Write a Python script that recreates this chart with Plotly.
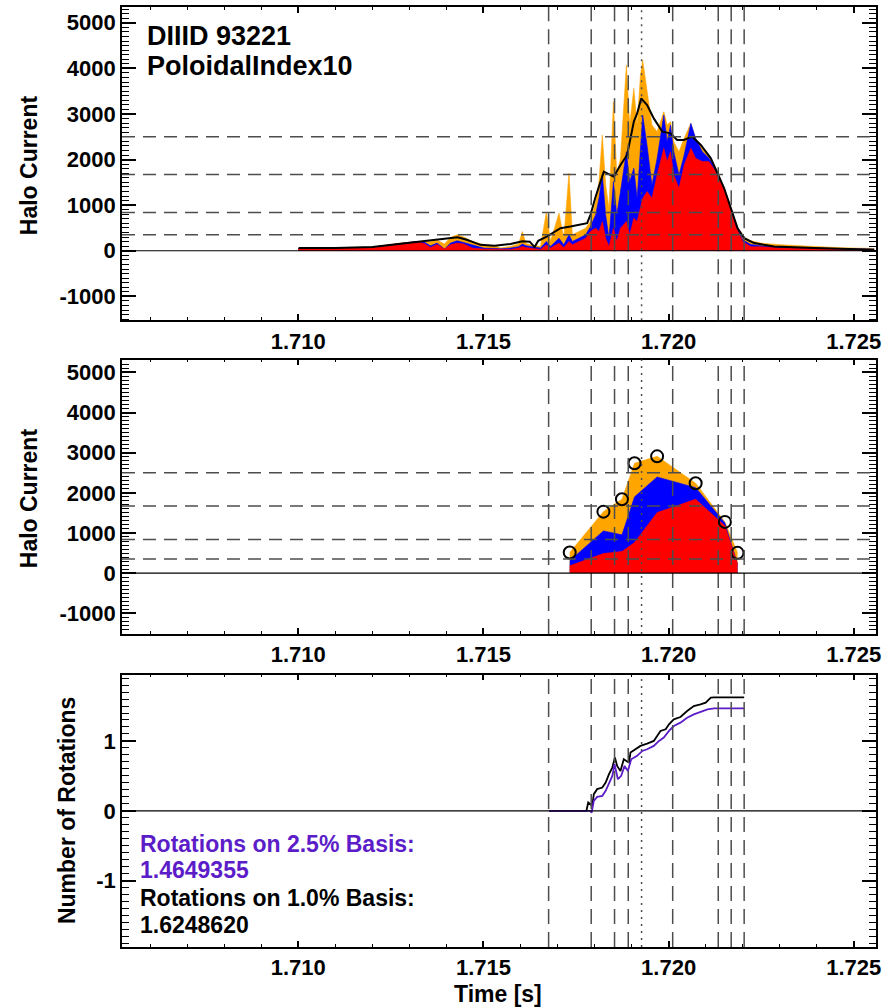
import plotly.graph_objects as go

# ---------------- data ----------------
# Top panel: raw poloidal halo current (three bases) and smoothed total
top_t = [1.71000, 1.71100, 1.71200, 1.71275, 1.71320, 1.71340, 1.71357, 1.71375, 1.71395, 1.71411,
         1.71429, 1.71447, 1.71470, 1.71501, 1.71537, 1.71546, 1.71573, 1.71595, 1.71605, 1.71615,
         1.71627, 1.71654, 1.71670, 1.71681, 1.71704, 1.71717, 1.71731, 1.71740, 1.71758, 1.71776,
         1.71789, 1.71803, 1.71812, 1.71821, 1.71830, 1.71839, 1.71851, 1.71860, 1.71870, 1.71886,
         1.71895, 1.71906, 1.71915, 1.71924, 1.71930, 1.71942, 1.71955, 1.71969, 1.71987, 1.71996,
         1.72005, 1.72014, 1.72028, 1.72042, 1.72060, 1.72073, 1.72091, 1.72109, 1.72127, 1.72145,
         1.72163, 1.72181, 1.72200, 1.72222, 1.72249, 1.72303, 1.72375, 1.72465, 1.72555]
top_orange = [55, 60, 80, 168, 210, 215, 200, 230, 146, 292,
              350, 300, 204, 131, 95, 58, 95, 150, 423, 160,
              131, 95, 850, 204, 824, 277, 1700, 350, 423, 496,
              642, 1080, 1517, 2538, 1444, 934, 3268, 1663, 2028, 4070,
              2757, 3560, 2757, 3851, 4180, 3487, 2757, 2611, 3049, 2757,
              2830, 2392, 2173, 2465, 2794, 2465, 2247, 2064, 1809, 1481,
              1080, 605, 314, 220, 168, 131, 95, 66, 51]
top_blue = [52, 57, 76, 160, 204, 190, 109, 168, 36, 168,
            219, 180, 131, 58, 50, 44, 58, 90, 146, 110,
            95, 60, 204, 95, 277, 131, 350, 204, 277, 350,
            532, 788, 1152, 1663, 788, 277, 1517, 788, 1298, 2173,
            1517, 1809, 1152, 2392, 2976, 2300, 1444, 2028, 2976, 2392,
            2757, 2173, 1663, 2100, 2794, 2465, 2173, 2028, 1790, 1470,
            1070, 570, 241, 140, 109, 80, 58, 44, 36]
top_red = [50, 55, 73, 155, 200, 160, 73, 140, 36, 131,
           168, 150, 58, 36, 30, 22, 30, 60, 95, 70,
           58, 30, 131, 58, 168, 73, 204, 131, 204, 277,
           423, 496, 423, 642, 277, 95, 496, 204, 496, 642,
           350, 715, 642, 934, 1152, 1298, 1152, 1663, 2247, 1955,
           2173, 1663, 1371, 1882, 2247, 2028, 1955, 1955, 1736, 1450,
           1050, 532, 204, 90, 88, 58, 44, 29, 22]

smooth_t = [1.71001, 1.71100, 1.71200, 1.71250, 1.71300, 1.71350, 1.71400, 1.71430, 1.71455, 1.71492,
            1.71530, 1.71573, 1.71605, 1.71625, 1.71638, 1.71648, 1.71672, 1.71708, 1.71735, 1.71762,
            1.71780, 1.71789, 1.71803, 1.71825, 1.71852, 1.71870, 1.71888, 1.71906, 1.71915, 1.71926,
            1.71942, 1.71960, 1.71983, 1.72005, 1.72023, 1.72041, 1.72064, 1.72087, 1.72114, 1.72132,
            1.72150, 1.72168, 1.72186, 1.72204, 1.72231, 1.72285, 1.72393, 1.72555]
smooth_total = [58, 62, 85, 130, 180, 225, 270, 298, 240, 130,
                110, 150, 210, 200, 80, 220, 314, 496, 532, 569,
                605, 788, 1189, 1736, 1627, 1882, 2101, 2830, 3012, 3341,
                3195, 2903, 2611, 2575, 2429, 2429, 2502, 2320, 2028, 1700,
                1371, 934, 496, 277, 168, 95, 58, 22]

# Middle panel: sampled halo current at the marker times
mid_t = [1.71733, 1.71824, 1.71874, 1.71908, 1.71969, 1.72073, 1.72152, 1.72186]
mid_total = [512, 1532, 1841, 2736, 2910, 2239, 1276, 505]
mid_blue = [306, 1052, 953, 1900, 2396, 2130, 1250, 224]
mid_red = [182, 488, 538, 762, 1508, 1841, 1177, 224]

# Bottom panel: accumulated number of rotations
rot_final_25 = 1.4649355
rot_final_10 = 1.6248620
rot10_t = [1.71677, 1.71778, 1.71783, 1.71789, 1.71794, 1.71798, 1.71807, 1.71821, 1.71830, 1.71839,
           1.71848, 1.71855, 1.71861, 1.71870, 1.71879, 1.71886, 1.71893, 1.71897, 1.71911, 1.71924,
           1.71942, 1.71960, 1.71969, 1.71978, 1.71992, 1.72001, 1.72014, 1.72032, 1.72050, 1.72068,
           1.72086, 1.72100, 1.72114, 1.72123, 1.72204]
rot10 = [0, 0, 0.119, 0.095, 0.071, 0.238, 0.31, 0.333, 0.405, 0.524,
         0.619, 0.762, 0.643, 0.571, 0.738, 0.714, 0.69, 0.833, 0.881, 0.929,
         0.962, 1.0, 1.071, 1.143, 1.167, 1.238, 1.31, 1.343, 1.429, 1.5,
         1.524, 1.548, 1.619, rot_final_10, rot_final_10]
rot25_t = [1.71677, 1.71789, 1.71792, 1.71798, 1.71807, 1.71821, 1.71830, 1.71839, 1.71848, 1.71854,
           1.71863, 1.71872, 1.71881, 1.71890, 1.71899, 1.71915, 1.71929, 1.71942, 1.71960, 1.71974,
           1.71987, 1.72001, 1.72014, 1.72032, 1.72050, 1.72068, 1.72086, 1.72105, 1.72123, 1.72204]
rot25 = [0, 0, -0.03, 0.143, 0.2, 0.214, 0.286, 0.381, 0.5, 0.667,
         0.452, 0.5, 0.643, 0.571, 0.738, 0.786, 0.857, 0.881, 0.929, 1.0,
         1.048, 1.143, 1.214, 1.262, 1.333, 1.381, 1.419, 1.452, rot_final_25, rot_final_25]

# Reference times and current levels
event_times = [1.71676, 1.71791, 1.71854, 1.71891, 1.72011, 1.72134, 1.72169, 1.72204]
peak_time = 1.71927
current_levels = [2500, 1670, 840, 350]

current_ticks = [-1000, 0, 1000, 2000, 3000, 4000, 5000]
rotation_ticks = [-1, 0, 1]
time_ticks = [1.710, 1.715, 1.720, 1.725]

# ---------------- styling ----------------
ORANGE = "#FFA500"
BLUE = "#0000FF"
RED = "#FF0000"
PURPLE = "#5C1DC9"
DASH_COLOR = "#4d4d4d"
FONT = "Liberation Sans"

fig = go.Figure()

# top panel fills
for vals, col in ((top_orange, ORANGE), (top_blue, BLUE), (top_red, RED)):
    fig.add_trace(go.Scatter(x=top_t, y=vals, mode="lines", fill="tozeroy",
                             line=dict(color=col, width=0.6), fillcolor=col,
                             xaxis="x", yaxis="y", showlegend=False, hoverinfo="skip"))
fig.add_trace(go.Scatter(x=smooth_t, y=smooth_total, mode="lines",
                         line=dict(color="black", width=2), xaxis="x", yaxis="y", showlegend=False))

# middle panel fills and sampled markers
for vals, col in ((mid_total, ORANGE), (mid_blue, BLUE), (mid_red, RED)):
    fig.add_trace(go.Scatter(x=mid_t, y=vals, mode="lines", fill="tozeroy",
                             line=dict(color=col, width=0.6), fillcolor=col,
                             xaxis="x2", yaxis="y2", showlegend=False, hoverinfo="skip"))
fig.add_trace(go.Scatter(x=mid_t, y=mid_total, mode="markers",
                         marker=dict(symbol="circle-open", size=12, color="black", line=dict(width=2)),
                         xaxis="x2", yaxis="y2", showlegend=False))

# bottom panel rotation curves
fig.add_trace(go.Scatter(x=rot10_t, y=rot10, mode="lines", line=dict(color="black", width=1.8),
                         xaxis="x3", yaxis="y3", showlegend=False))
fig.add_trace(go.Scatter(x=rot25_t, y=rot25, mode="lines", line=dict(color=PURPLE, width=1.8),
                         xaxis="x3", yaxis="y3", showlegend=False))

# reference lines
shapes = []
for xa, ya in (("x", "y"), ("x2", "y2"), ("x3", "y3")):
    for t in event_times:
        shapes.append(dict(type="line", xref=xa, yref=f"{ya} domain", x0=t, x1=t, y0=0, y1=1,
                           line=dict(color=DASH_COLOR, width=1.5, dash="15px,8px"), layer="above"))
    shapes.append(dict(type="line", xref=xa, yref=f"{ya} domain", x0=peak_time, x1=peak_time, y0=0, y1=1,
                       line=dict(color=DASH_COLOR, width=1.5, dash="2px,5px"), layer="above"))
    shapes.append(dict(type="line", xref=f"{xa} domain", yref=ya, x0=0, x1=1, y0=0, y1=0,
                       line=dict(color="black", width=1.2), layer="above"))
for xa, ya in (("x", "y"), ("x2", "y2")):
    for lv in current_levels:
        shapes.append(dict(type="line", xref=f"{xa} domain", yref=ya, x0=0, x1=1, y0=lv, y1=lv,
                           line=dict(color=DASH_COLOR, width=1.5, dash="13px,8px"), layer="above"))

xcommon = dict(range=[1.70524, 1.72560], tickmode="array", tickvals=time_ticks,
               ticktext=[f"{v:.3f}" for v in time_ticks],
               ticks="inside", ticklen=6, tickwidth=1.5, tickcolor="black",
               minor=dict(tickmode="linear", tick0=1.710, dtick=0.001, ticks="inside", ticklen=3,
                          tickwidth=1.2, tickcolor="black"),
               showline=True, linecolor="black", linewidth=1.8, mirror="allticks",
               showgrid=False, zeroline=False, ticklabelstandoff=0,
               tickfont=dict(family=FONT, size=22, color="black", weight="bold"))
ycur = dict(range=[-1525, 5346], tickmode="array", tickvals=current_ticks,
            ticktext=[str(v) for v in current_ticks],
            ticks="inside", ticklen=14, tickwidth=1.5, tickcolor="black",
            minor=dict(tickmode="linear", tick0=0, dtick=100, ticks="inside", ticklen=7,
                       tickwidth=1.2, tickcolor="black"),
            showline=True, linecolor="black", linewidth=1.8, mirror="allticks",
            showgrid=False, zeroline=False,
            tickfont=dict(family=FONT, size=22, color="black", weight="bold"))
yrot = dict(ycur, range=[-1.95, 1.95], tickvals=rotation_ticks,
            ticktext=[str(v) for v in rotation_ticks],
            minor=dict(tickmode="linear", tick0=0, dtick=0.1, ticks="inside", ticklen=7,
                       tickwidth=1.2, tickcolor="black"))

fig.update_layout(
    width=896, height=1007,
    margin=dict(l=122, r=20, t=5, b=60),
    paper_bgcolor="white", plot_bgcolor="white",
    font=dict(family=FONT, size=22, color="black", weight="bold"),
    xaxis=dict(xcommon, domain=[0, 1], anchor="y"),
    yaxis=dict(ycur, domain=[0.6667, 1.0], anchor="x"),
    xaxis2=dict(xcommon, domain=[0, 1], anchor="y2"),
    yaxis2=dict(ycur, range=[-1517, 5323], domain=[0.3330, 0.6250], anchor="x2"),
    xaxis3=dict(xcommon, domain=[0, 1], anchor="y3"),
    yaxis3=dict(yrot, domain=[0.0, 0.2898], anchor="x3"),
    shapes=shapes,
)

def note(text, x, y, size=23, color="black", angle=0, xanchor="left"):
    fig.add_annotation(text=text, x=x, y=y, xref="paper", yref="paper", showarrow=False,
                       xanchor=xanchor, yanchor="middle", textangle=angle,
                       font=dict(family=FONT, size=size, color=color, weight="bold"))

note("DIIID 93221", 0.0305, 0.969, size=27)
note("PoloidalIndex10", 0.0305, 0.937, size=27)
note("Halo Current", -0.123, 0.832, angle=-90, xanchor="center")
note("Halo Current", -0.123, 0.4777, angle=-90, xanchor="center")
note("Number of Rotations", -0.072, 0.1454, angle=-90, xanchor="center")
note("Time [s]", 0.4993, -0.0500, xanchor="center")
note("Rotations on 2.5% Basis:", 0.0212, 0.1100, color=PURPLE)
note(f"{rot_final_25:.7f}", 0.0212, 0.0817, color=PURPLE)
note("Rotations on 1.0% Basis:", 0.0212, 0.0520)
note(f"{rot_final_10:.7f}", 0.0212, 0.0234)

fig.write_html("out.html")
